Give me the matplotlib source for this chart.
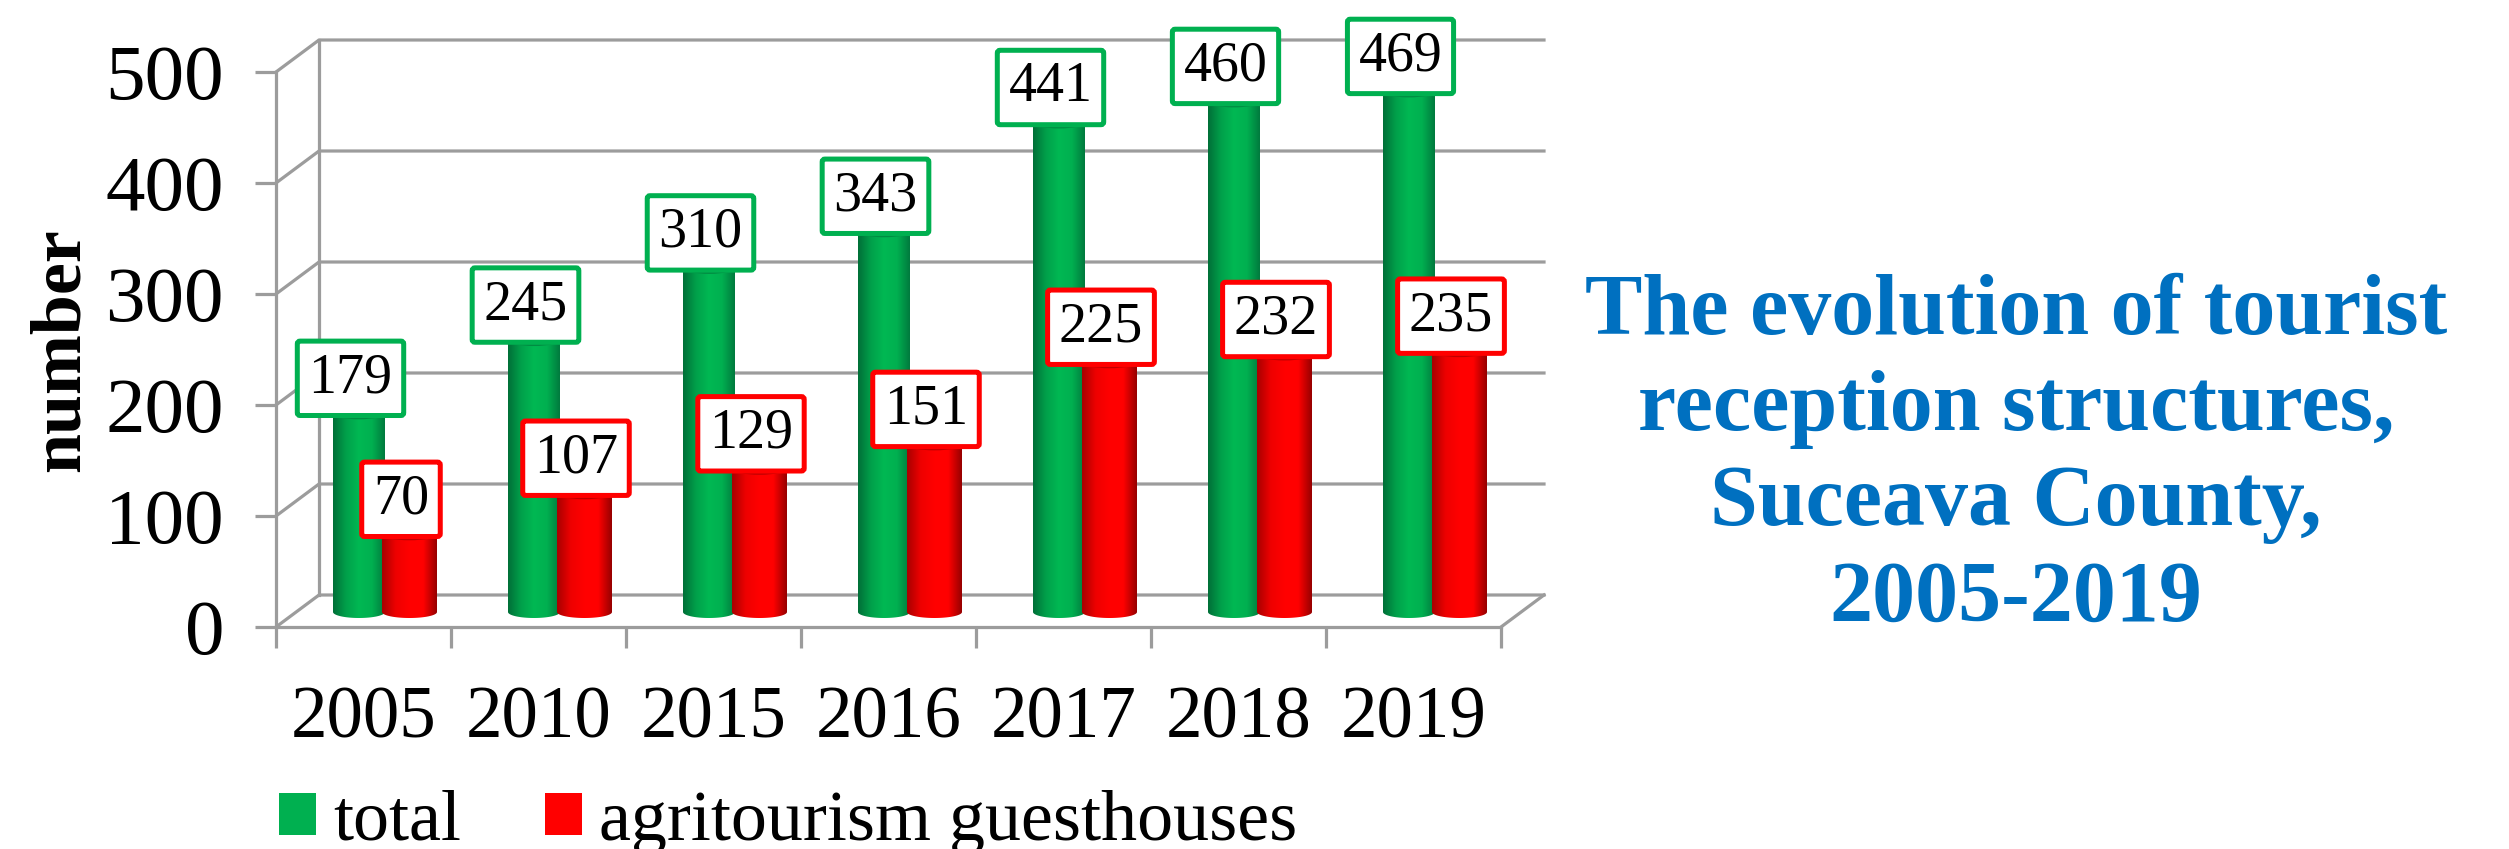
#!/usr/bin/env python3
"""Tourist reception structures in Suceava County, drawn as cylinder columns."""

import numpy as np
import matplotlib
matplotlib.use('Agg')
import matplotlib.pyplot as plt
from matplotlib.colors import LinearSegmentedColormap
from matplotlib.patches import Patch, PathPatch, Ellipse
from matplotlib.path import Path

years = ['2005', '2010', '2015', '2016', '2017', '2018', '2019']
total = [179, 245, 310, 343, 441, 460, 469]
agritourism = [70, 107, 129, 151, 225, 232, 235]
y_ticks = [0, 100, 200, 300, 400, 500]
series_names = ['total', 'agritourism guesthouses']
title_text = 'The evolution of tourist\nreception structures,\nSuceava County,\n2005-2019'

W, H = 2509, 849
PX = 0.72  # points per pixel at dpi 100
GREY = '#9c9c9c'
LINE_W = 3.2 * PX
SERIF = 'Liberation Serif'

# axes box in pixels
LEFT, RIGHT, TOP, BOTTOM = 276, 1501, 72, 627
cat_px = (RIGHT - LEFT) / len(years)
val_px = (BOTTOM - TOP) / y_ticks[-1]

# depth of the fake 3D box
depth_x = 43 / cat_px
depth_y = 32 / val_px

# column placement inside a category, in pixels from the category edge
base_val = 15 / val_px
cap_h = 6 / val_px

green_cmap = LinearSegmentedColormap.from_list(
    'green_col', ['#006f38', '#00a04a', '#00b853', '#00b050', '#007a3e'])
red_cmap = LinearSegmentedColormap.from_list(
    'red_col', ['#a80000', '#ee0000', '#ff0000', '#ff0000', '#960000'])


def draw_column(ax, x0, x1, value, cmap, cap_color, z):
    """Draw one cylinder with a shaded body and a darker lens at the top."""
    xc = (x0 + x1) / 2
    half = (x1 - x0) / 2
    top = value + base_val
    t = np.linspace(np.pi, 2 * np.pi, 40)
    arc_x = xc + half * np.cos(t)
    arc_y = base_val + cap_h * np.sin(t)
    verts = [(x0, top)] + list(zip(arc_x, arc_y)) + [(x1, top), (x0, top)]
    body = PathPatch(Path(verts), fc='none', ec='none', zorder=z)
    ax.add_patch(body)
    shade = np.linspace(0, 1, 256).reshape(1, -1)
    im = ax.imshow(shade, cmap=cmap, extent=[x0, x1, 0, top], aspect='auto',
                   zorder=z, interpolation='bilinear')
    im.set_clip_path(body)
    ax.add_patch(Ellipse((xc, top), x1 - x0, 2 * cap_h, fc=cap_color, ec='none', zorder=z + 0.1))


def draw_value(ax, x, value, color):
    """White value box sitting on the top of a column."""
    ax.annotate(str(value), xy=(x, value + base_val), xytext=(-8.5 * PX, 9 * PX),
                textcoords='offset points', ha='center', va='bottom',
                fontsize=56 * PX, family=SERIF, color='black', zorder=10,
                annotation_clip=False,
                bbox=dict(boxstyle='round,pad=0.2,rounding_size=0.05', fc='white',
                          ec=color, lw=5 * PX))


fig = plt.figure(figsize=(W / 100, H / 100), dpi=100, facecolor='white')
ax = fig.add_axes([LEFT / W, 1 - BOTTOM / H, (RIGHT - LEFT) / W, (BOTTOM - TOP) / H])
ax.patch.set_alpha(0)

# back wall, side wall and floor
n = len(years)
for v in y_ticks:
    ax.plot([0, depth_x, n + depth_x], [v, v + depth_y, v + depth_y],
            color=GREY, lw=LINE_W, clip_on=False, zorder=1)
ax.plot([depth_x, depth_x], [depth_y, y_ticks[-1] + depth_y], color=GREY, lw=LINE_W,
        clip_on=False, zorder=1)
ax.plot([n, n + depth_x], [0, depth_y], color=GREY, lw=LINE_W, clip_on=False, zorder=1)

for i in range(n):
    draw_column(ax, i + 57 / cat_px, i + 109 / cat_px, total[i], green_cmap, '#008c42', 2)
    draw_column(ax, i + 106 / cat_px, i + 161 / cat_px, agritourism[i], red_cmap, '#c00000', 3)
    draw_value(ax, i + 83 / cat_px, total[i], '#00b050')
    draw_value(ax, i + 133.5 / cat_px, agritourism[i], '#ff0000')

ax.set_xlim(0, n)
ax.set_ylim(0, y_ticks[-1])

for side in ['top', 'right']:
    ax.spines[side].set_visible(False)
for side in ['left', 'bottom']:
    ax.spines[side].set_color(GREY)
    ax.spines[side].set_linewidth(LINE_W)

ax.set_yticks(y_ticks)
ax.set_yticklabels([str(v) for v in y_ticks], fontsize=79 * PX, family=SERIF)
ax.tick_params(axis='y', length=21 * PX, width=LINE_W, color=GREY, pad=31 * PX)
ax.set_xticks(range(n + 1))
ax.set_xticklabels([])
ax.tick_params(axis='x', which='major', length=21 * PX, width=LINE_W, color=GREY)
ax.set_xticks(np.arange(n) + 0.5, minor=True)
ax.set_xticklabels(years, minor=True, fontsize=73 * PX, family=SERIF)
ax.tick_params(axis='x', which='minor', length=0, pad=59 * PX)

fig.text(61 / W, 1 - 350 / H, 'number', rotation=90, ha='center', va='center',
         fontsize=72 * PX, family=SERIF, fontweight='bold')

fig.text(2016 / W, 1 - 457 / H, title_text, ha='center', va='center', color='#0070c0',
         fontsize=86 * PX, family=SERIF, fontweight='bold', linespacing=1.28)

handles = [Patch(fc='#00b050', ec='none'), Patch(fc='#ff0000', ec='none')]
fig.legend(handles, series_names, loc='lower left', bbox_to_anchor=(279 / W, -6 / H), ncol=2,
           frameon=False, prop={'family': SERIF, 'size': 72 * PX},
           handlelength=0.52, handleheight=0.52, handletextpad=0.24, columnspacing=1.15,
           borderaxespad=0, borderpad=0)

fig.savefig('out.png', dpi=100)
plt.close(fig)
